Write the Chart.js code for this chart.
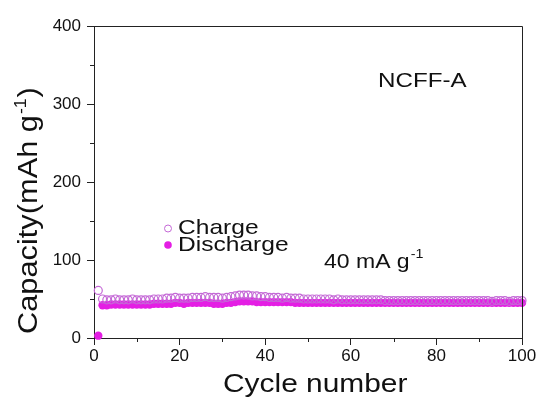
<!DOCTYPE html>
<html>
<head>
<meta charset="utf-8">
<script src="https://cdn.jsdelivr.net/npm/chart.js@4.4.1/dist/chart.umd.min.js"></script>
<style>
  html, body { margin: 0; padding: 0; background: #fff; }
  #wrap { width: 543px; height: 399px; }
</style>
</head>
<body>
<div id="wrap"><canvas id="capChart" width="543" height="399"></canvas></div>
<script>
// cycle index (x) and capacities in mAh/g
const cycles = [
  1, 2, 3, 4, 5, 6, 7, 8, 9, 10,
  11, 12, 13, 14, 15, 16, 17, 18, 19, 20,
  21, 22, 23, 24, 25, 26, 27, 28, 29, 30,
  31, 32, 33, 34, 35, 36, 37, 38, 39, 40,
  41, 42, 43, 44, 45, 46, 47, 48, 49, 50,
  51, 52, 53, 54, 55, 56, 57, 58, 59, 60,
  61, 62, 63, 64, 65, 66, 67, 68, 69, 70,
  71, 72, 73, 74, 75, 76, 77, 78, 79, 80,
  81, 82, 83, 84, 85, 86, 87, 88, 89, 90,
  91, 92, 93, 94, 95, 96, 97, 98, 99, 100
];
const chargeCap = [
  61, 50, 49, 49, 50, 49, 49, 49, 50, 49,
  49, 49, 49, 50, 50, 50, 51, 51, 52, 51,
  51, 51, 52, 52, 52, 53, 52, 52, 52, 51,
  52, 53, 54, 55, 55, 55, 54, 54, 53, 53,
  52, 52, 52, 51, 52, 51, 51, 51, 50, 50,
  50, 50, 50, 50, 50, 49, 50, 49, 49, 49,
  49, 49, 49, 49, 49, 49, 49, 48, 48, 48,
  48, 48, 48, 48, 48, 48, 48, 48, 48, 48,
  48, 48, 48, 48, 48, 48, 48, 48, 48, 48,
  48, 48, 47, 48, 48, 48, 47, 48, 48, 48
];
const dischargeCap = [
  3, 42, 42, 43, 43, 43, 43, 43, 43, 43,
  43, 43, 43, 44, 44, 44, 44, 44, 45, 45,
  44, 45, 45, 45, 45, 45, 45, 44, 44, 44,
  45, 45, 46, 47, 47, 47, 47, 46, 46, 46,
  46, 46, 46, 46, 46, 46, 45, 45, 45, 45,
  45, 45, 45, 45, 45, 45, 45, 45, 45, 45,
  45, 45, 45, 45, 45, 45, 45, 45, 45, 45,
  45, 45, 45, 45, 45, 45, 45, 45, 45, 45,
  45, 45, 45, 45, 45, 45, 45, 45, 45, 45,
  45, 45, 45, 45, 45, 45, 45, 45, 45, 45
];
const xMinorTicks = [10, 30, 50, 70, 90];
const yMinorTicks = [50, 150, 250, 350];

const FONT = "'Liberation Sans', Arial, Helvetica, sans-serif";
const INK = '#111';
const CHARGE_COLOR = '#c468d6';
const DISCHARGE_COLOR = '#e41ee4';
const STRETCH = 1.17; // the figure's lettering is drawn a bit wide

const toPoints = ys => cycles.map((c, i) => ({ x: c, y: ys[i] }));

// draw text widened horizontally, returns the advance in pixels
function wideText(ctx, txt, x, y, size, sx) {
  ctx.save();
  ctx.font = size + 'px ' + FONT;
  ctx.translate(x, y);
  ctx.scale(sx, 1);
  ctx.fillText(txt, 0, 0);
  const w = ctx.measureText(txt).width * sx;
  ctx.restore();
  return w;
}

// frame, minor ticks, titles, legend and labels
const overlay = {
  id: 'overlay',
  afterDraw(chart) {
    const ctx = chart.ctx;
    const { left, right, top, bottom } = chart.chartArea;
    const xs = chart.scales.x, ys = chart.scales.y;
    ctx.save();
    ctx.strokeStyle = '#222';
    ctx.lineWidth = 1;
    ctx.beginPath();
    ctx.moveTo(left, top + 0.5);
    ctx.lineTo(right + 0.5, top + 0.5);
    ctx.lineTo(right + 0.5, bottom);
    xMinorTicks.forEach(v => {
      const px = Math.round(xs.getPixelForValue(v)) + 0.5;
      ctx.moveTo(px, bottom); ctx.lineTo(px, bottom + 4);
    });
    yMinorTicks.forEach(v => {
      const py = Math.round(ys.getPixelForValue(v)) + 0.5;
      ctx.moveTo(left, py); ctx.lineTo(left - 4, py);
    });
    ctx.stroke();

    ctx.fillStyle = INK;
    ctx.textBaseline = 'alphabetic';
    ctx.textAlign = 'left';

    // x title
    wideText(ctx, 'Cycle number', 223, 392, 26, 1.15);

    // y title (rotated) with superscript
    ctx.save();
    ctx.translate(37, 334);
    ctx.rotate(-Math.PI / 2);
    let w = wideText(ctx, 'Capacity(mAh g', 0, 0, 27, 1.14);
    let w2 = wideText(ctx, '-1', w + 1, -11, 16, 1.1);
    wideText(ctx, ')', w + w2 + 2, 0, 27, 1.14);
    ctx.restore();

    // sample label
    wideText(ctx, 'NCFF-A', 378, 87, 21, 1.15);

    // current density
    w = wideText(ctx, '40 mA g', 324, 268, 20, 1.15);
    wideText(ctx, '-1', 325 + w, 258, 13, 1.1);

    // legend
    ctx.lineWidth = 1;
    ctx.strokeStyle = CHARGE_COLOR;
    ctx.beginPath(); ctx.arc(168, 228.5, 3.5, 0, Math.PI * 2); ctx.stroke();
    ctx.fillStyle = DISCHARGE_COLOR;
    ctx.beginPath(); ctx.arc(168, 245, 3.8, 0, Math.PI * 2); ctx.fill();
    ctx.fillStyle = INK;
    wideText(ctx, 'Charge', 178, 234, 21, STRETCH);
    wideText(ctx, 'Discharge', 178, 251, 21, STRETCH);
    ctx.restore();
  }
};

new Chart(document.getElementById('capChart'), {
  type: 'scatter',
  data: {
    datasets: [
      {
        label: 'Charge',
        data: toPoints(chargeCap),
        pointStyle: 'circle',
        pointRadius: 4,
        pointBorderWidth: 1.2,
        borderColor: CHARGE_COLOR,
        backgroundColor: 'rgba(255,255,255,0)',
        clip: false
      },
      {
        label: 'Discharge',
        data: toPoints(dischargeCap),
        pointStyle: 'circle',
        pointRadius: 4.2,
        pointBorderWidth: 0,
        borderColor: DISCHARGE_COLOR,
        backgroundColor: DISCHARGE_COLOR,
        clip: false
      }
    ]
  },
  options: {
    responsive: false,
    animation: false,
    devicePixelRatio: 1,
    layout: { padding: { top: 26, right: 21, left: 0, bottom: 0 } },
    plugins: { legend: { display: false }, tooltip: { enabled: false } },
    scales: {
      x: {
        type: 'linear', min: 0, max: 100,
        afterFit: s => { s.height = 61; },
        border: { display: true, color: '#222', width: 1 },
        grid: { display: true, drawOnChartArea: false, drawTicks: true, tickLength: 7, tickColor: '#222' },
        ticks: { stepSize: 20, padding: 1, color: INK, font: { family: FONT, size: 17 }, maxRotation: 0, autoSkip: false }
      },
      y: {
        type: 'linear', min: 0, max: 400,
        afterFit: s => { s.width = 94; },
        border: { display: true, color: '#222', width: 1 },
        grid: { display: true, drawOnChartArea: false, drawTicks: true, tickLength: 7, tickColor: '#222' },
        ticks: { stepSize: 100, padding: 6, color: INK, font: { family: FONT, size: 17 } }
      }
    }
  },
  plugins: [overlay]
});
</script>
</body>
</html>
